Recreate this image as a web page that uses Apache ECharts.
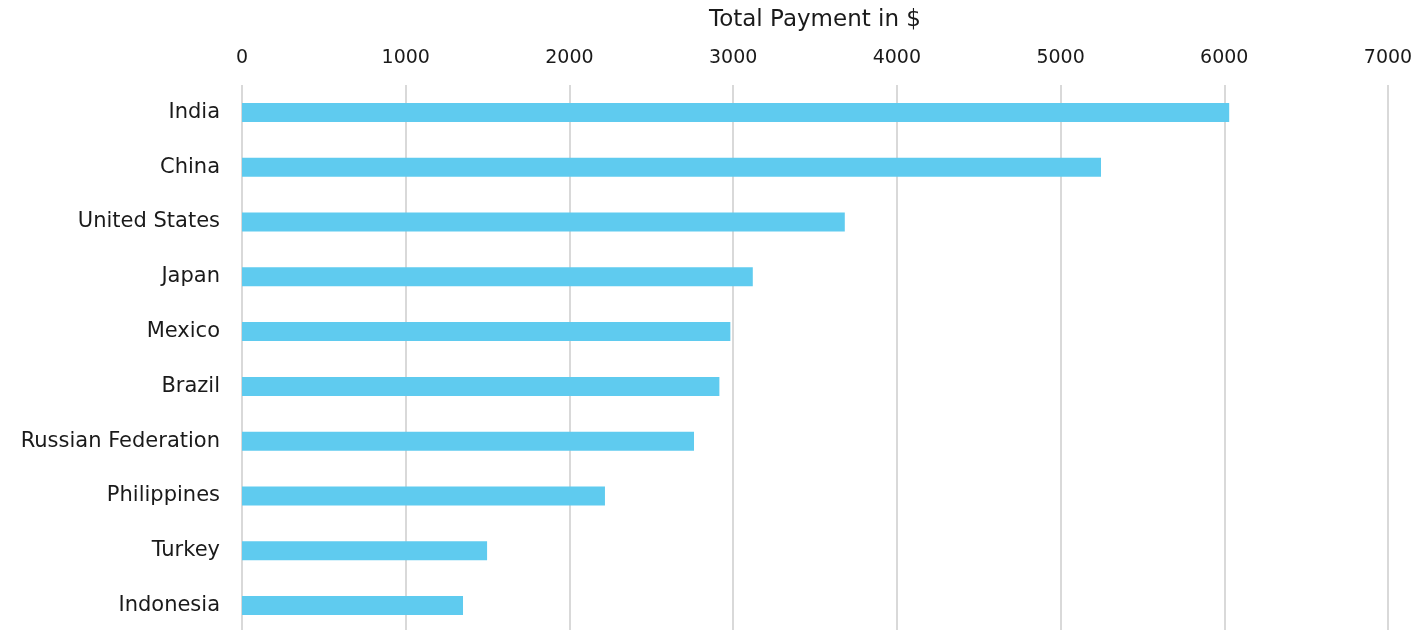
<!DOCTYPE html>
<html>
<head>
<meta charset="utf-8">
<script src="https://cdn.jsdelivr.net/npm/echarts@6/dist/echarts.min.js"></script>
<style>
  html, body { margin: 0; padding: 0; background: #ffffff; }
  #chart { width: 1415px; height: 630px; }
</style>
</head>
<body>
<div id="chart"></div>
<script>
// Countries, listed top to bottom
const countries = ['India', 'China', 'United States', 'Japan', 'Mexico', 'Brazil',
  'Russian Federation', 'Philippines', 'Turkey', 'Indonesia'];
// Total payment per country, in dollars
const payments = [6030, 5247, 3682, 3120, 2983, 2916, 2761, 2217, 1497, 1350];
const axisMax = 7000;
const axisStep = 1000;

const font = '"DejaVu Sans", Verdana, sans-serif';
const chart = echarts.init(document.getElementById('chart'), null, { renderer: 'canvas' });

chart.setOption({
  animation: false,
  backgroundColor: '#ffffff',
  grid: { left: 242, right: 27, top: 85, height: 548, containLabel: false, outerBoundsMode: 'none' },
  xAxis: {
    type: 'value',
    position: 'top',
    min: 0,
    max: axisMax,
    interval: axisStep,
    name: 'Total Payment in $',
    nameLocation: 'middle',
    nameGap: 53,
    nameTextStyle: { fontFamily: font, fontSize: 23, color: '#1a1a1a' },
    axisLine: { show: false },
    axisTick: { show: false },
    axisLabel: { fontFamily: font, fontSize: 19, color: '#1a1a1a', margin: 17,
      formatter: v => String(v) },
    splitLine: { show: true, lineStyle: { color: '#d9d9d9', width: 2 } }
  },
  yAxis: {
    type: 'category',
    data: countries,
    inverse: true,
    axisLine: { show: false },
    axisTick: { show: false },
    axisLabel: { fontFamily: font, fontSize: 21, color: '#1a1a1a', margin: 22 }
  },
  series: [{
    type: 'bar',
    data: payments,
    barWidth: 19,
    itemStyle: { color: '#5fcbef' }
  }]
});
</script>
</body>
</html>
